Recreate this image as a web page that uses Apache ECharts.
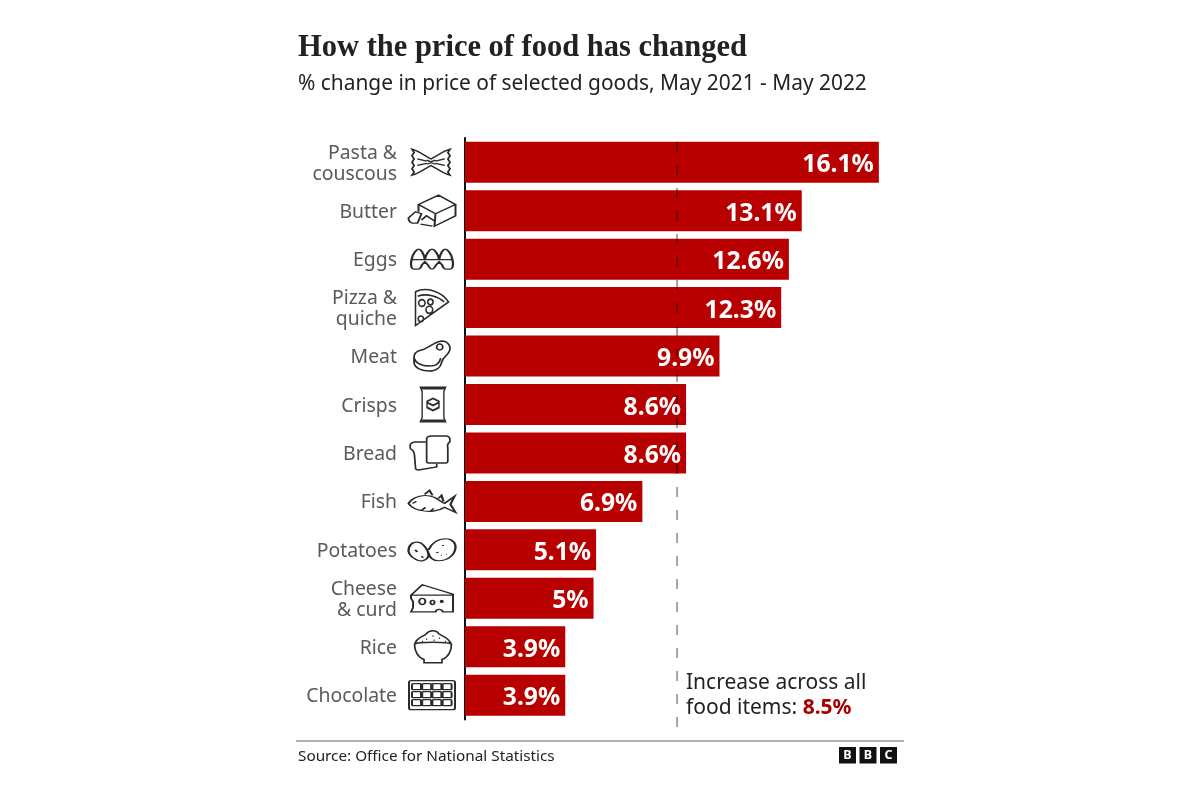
<!DOCTYPE html>
<html>
<head>
<meta charset="utf-8">
<style>html,body{margin:0;padding:0;background:#fff}#c{width:1200px;height:800px}</style>
<script src="https://cdn.jsdelivr.net/npm/echarts@6/dist/echarts.min.js"></script>
</head>
<body>
<div id="c"></div>
<script>
const categories = ['Pasta &\ncouscous','Butter','Eggs','Pizza &\nquiche','Meat','Crisps','Bread','Fish','Potatoes','Cheese\n& curd','Rice','Chocolate'];
const values = [16.1,13.1,12.6,12.3,9.9,8.6,8.6,6.9,5.1,5,3.9,3.9];
const iconKeys = ['pasta','butter','eggs','pizza','meat','crisps','bread','fish','potatoes','cheese','rice','chocolate'];
const allFoodLabel = '8.5%';
const guideLinePosition = 8.25;

const circle = (x,y,r)=>`M${x-r} ${y}a${r} ${r} 0 1 0 ${2*r} 0a${r} ${r} 0 1 0 ${-2*r} 0Z`;
const rrect = (x,y,w,h,r)=>`M${x+r} ${y}h${w-2*r}q${r} 0 ${r} ${r}v${h-2*r}q0 ${r} ${-r} ${r}h${-(w-2*r)}q${-r} 0 ${-r} ${-r}v${-(h-2*r)}q0 ${-r} ${r} ${-r}Z`;
let chocCells = '';
for (let r=0;r<3;r++) for (let c=0;c<4;c++) chocCells += rrect(3+c*10.2,3+r*8,9,6,1);

const icons = {
  pasta:{size:[38,26],off:-34,path:'M1 1C8 3 13 7 19 10C25 7 30 3 37 1L35 4L37 7L35 10L37 13L35 16L37 19L35 22L37 25C30 23 25 19 19 16C13 19 8 23 1 25L3 22L1 19L3 16L1 13L3 10L1 7L3 4ZM6 10L15 12M6 16L15 14M32 10L23 12M32 16L23 14M15 11C18 13 20 13 23 11M15 15C18 13 20 13 23 15'},
  butter:{size:[47,31],off:-33,path:'M10 10L30 1L47 10L27 19ZM47 10V21L26 31L27 19M10 10V17M0 23L7 17L13 19L9 28L4 28Q0 27 0 23ZM13 25L18 21L26 26M12 29L24 31'},
  eggs:{size:[42,20],off:-33,path:'M1 10C2 4 6 0 8 0C10 0 13 4 14 10C15 4 19 0 21 0C23 0 27 4 28 10C29 4 32 0 34 0C36 0 40 4 41 10ZM1 10C0 13 0 19 3 19H7Q10 19 11 15L14 12L17 15Q19 19 21 19Q23 19 25 15L28 12L31 15Q32 19 35 19H39C42 19 42 13 41 10'},
  pizza:{size:[33,36],off:-33,path:'M1 35L1 5C11 0 26 5 32 14ZM3 9C12 6 22 9 28 14'+circle(7,15,3)+circle(15,14,2.5)+circle(14,21,3.2)+circle(6,29,2.5)},
  meat:{size:[36,30],off:-33,path:'M7 9C13 8 19 1 27 0C33 0 37 6 34 11C32 15 28 16 27 21C26 26 22 30 15 30C8 30 0 27 0 21V16C0 12 3 10 7 9ZM0 17C2 23 9 25 15 25C21 25 25 22 26 17'+circle(25,6,3)},
  crisps:{size:[25,34],off:-32,path:'M1 0H24L22.5 4V30L24 34H1L2.5 30V4ZM2.5 1H22.5M2.5 33H22.5M12.5 11L18 14V20L12.5 23L7 20V14ZM7 15L12.5 18L18 15'},
  bread:{size:[40,34],off:-35,path:'M17 3Q17 0 22 0H36Q41 0 40 6Q37 8 38 12V25Q38 27 36 27H19Q17 27 17 25V8Q17 5 17 3ZM16 6H5Q-1 7 1 13Q5 15 5 20L6 32Q6 34 9 34L27 31V28'},
  fish:{size:[47,22],off:-33,path:'M0 13C5 6 16 3 26 7C30 9 33 12 36 13L46 6L42 14L47 22L36 17C30 21 20 22 12 20C6 19 2 16 0 13ZM16 4L21 0L24 5M30 8L33 5L35 11M13 20L17 17M22 21L25 18M4 13L8 11'},
  potatoes:{size:[47,22],off:-33,path:'M1 9C3 4 8 3 13 5C17 8 20 12 20 16C19 21 12 22 8 20C4 18 -1 14 1 9ZM20 11C23 5 29 1 37 1C43 1 47 5 46 10C45 16 38 21 30 21C24 21 21 18 20 14M7 11L9 13M13 17L15 18M33 7L35 7M32 16L33 16M37 15L38 15M28 13L29 14'},
  cheese:{size:[42,27],off:-33,path:'M1 10L12 0L42 9V26H32C31 23 26 23 25 26H6L1 26L3 22V16L1 13ZM1 10H42'+circle(12,16,3)+circle(22,17,2)+circle(31,16,1)},
  rice:{size:[37,32],off:-32,path:'M1 15C3 8 9 8 12 5C15 1 22 1 24 5C28 7 34 9 36 15M1 15C0 12 37 12 36 15C36 21 33 27 27 29V32H10V29C4 27 1 21 1 15ZM12 10L13 10M18 7L19 7M24 9L25 9M30 12L31 12M8 12L9 12M19 11L20 11'},
  chocolate:{size:[46,29],off:-33,path:rrect(0,0,46,29,2)+chocCells}
};

const iconData = iconKeys.map((k,i)=>({
  value:[0,i], symbol:'path://'+icons[k].path, symbolSize:icons[k].size, symbolOffset:[icons[k].off,0]
}));

const chart = echarts.init(document.getElementById('c'),null,{renderer:'canvas'});
const SANS = '"Noto Sans","Open Sans",sans-serif';
chart.setOption({
  animation:false,
  backgroundColor:'#fff',
  title:[
    {text:'How the price of food has changed',left:298,top:33,padding:0,textStyle:{fontFamily:'"Liberation Serif",serif',fontWeight:'bold',fontSize:30.5,color:'#222'}},
    {text:'% change in price of selected goods, May 2021 - May 2022',left:298,top:74,padding:0,textStyle:{fontFamily:SANS,fontWeight:'normal',fontSize:20.9,color:'#222'}},
    {text:'Source: Office for National Statistics',left:298,top:749,padding:0,textStyle:{fontFamily:SANS,fontWeight:'normal',fontSize:15.3,color:'#222'}}
  ],
  grid:{left:465,top:138,width:437,height:581.4,containLabel:false},
  xAxis:{type:'value',min:0,max:17,show:false,splitLine:{show:false}},
  yAxis:{type:'category',data:categories,inverse:true,
    axisLine:{show:true,lineStyle:{color:'#111',width:2}},
    axisTick:{show:false},
    axisLabel:{margin:68,align:'right',
      formatter:v=>v.split('\n').map(s=>'{a|'+s+'}').join('\n'),
      rich:{a:{fontFamily:SANS,fontSize:19.4,lineHeight:21,padding:[3,0,0,0],color:'#5a5a5a'}}}
  },
  series:[
    {type:'bar',z:2,data:values,barWidth:41,itemStyle:{color:'#b80000'},silent:true},
    {type:'custom',z:3,silent:true,clip:false,data:[guideLinePosition],encode:{x:0},
     renderItem:(params,api)=>{
       const x = api.coord([api.value(0),0])[0];
       return {type:'line',shape:{x1:x,y1:142,x2:x,y2:727},
         style:{stroke:'rgba(0,0,0,0.36)',lineWidth:2,lineDash:[10,13],fill:null}};
     }},
    {type:'bar',z:4,data:values,barWidth:41,barGap:'-100%',itemStyle:{color:'rgba(0,0,0,0)'},silent:true,
     label:{show:true,position:'insideRight',distance:5,offset:[0,3],formatter:p=>p.value+'%',color:'#fff',fontFamily:SANS,fontWeight:'bold',fontSize:24.7}},
    {type:'scatter',clip:false,silent:true,z:5,data:iconData,
     itemStyle:{color:'rgba(255,255,255,0)',borderColor:'#2b2b2b',borderWidth:1.6,opacity:1}}
  ],
  graphic:[
    {type:'line',shape:{x1:296,y1:741,x2:904,y2:741},style:{stroke:'#999',lineWidth:1.5},silent:true},
    {type:'text',left:686,top:673,silent:true,style:{
      text:'{n|Increase across all}\n{n|food items: }{r|'+allFoodLabel+'}',
      rich:{n:{fontFamily:SANS,fontSize:21,lineHeight:25,fill:'#222'},r:{fontFamily:SANS,fontSize:21,fontWeight:'bold',lineHeight:25,fill:'#a80000'}}
    }},
    ...['B','B','C'].flatMap((t,i)=>[
      {type:'rect',shape:{x:839+i*20.5,y:747,width:17,height:16.5},style:{fill:'#111'},silent:true},
      {type:'text',x:847.5+i*20.5,y:755.5,silent:true,style:{text:t,fill:'#fff',font:'bold 12.5px "Noto Sans"',textAlign:'center',textVerticalAlign:'middle'}}
    ])
  ]
});
</script>
</body>
</html>
